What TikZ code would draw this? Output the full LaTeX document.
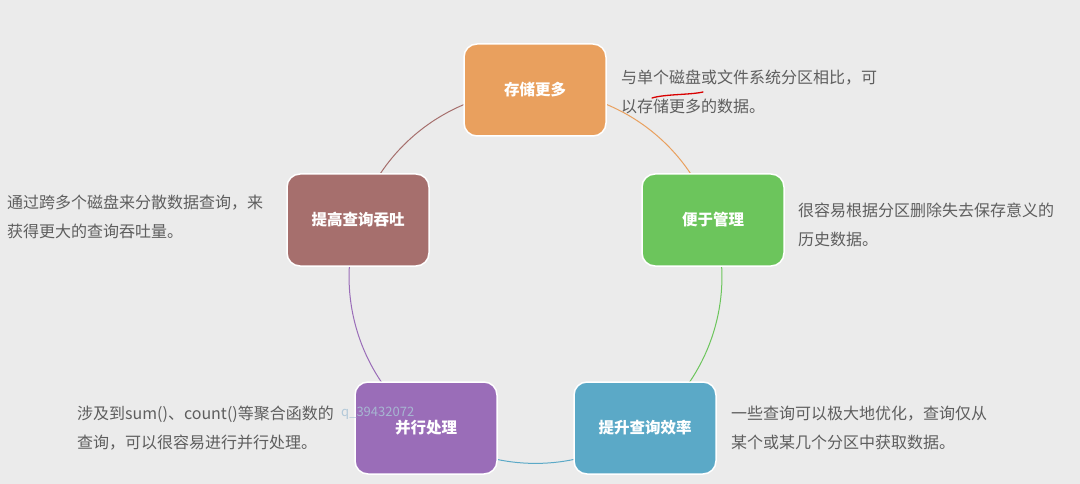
\documentclass[tikz,border=0pt]{standalone}
\usepackage{fontspec}
\usetikzlibrary{backgrounds}
\setmainfont{Noto Sans CJK SC}
\newfontfamily\cjk{Noto Sans CJK SC}
\definecolor{bgc}{HTML}{EBEBEB}
\definecolor{cOrange}{HTML}{E9A05E}
\definecolor{cGreen}{HTML}{6CC55C}
\definecolor{cBlue}{HTML}{5BA9C7}
\definecolor{cPurple}{HTML}{9A6DB8}
\definecolor{cBrown}{HTML}{A66F6D}
\definecolor{descc}{HTML}{5E5E5E}
\definecolor{wmark}{HTML}{A9C3D6}
\tikzset{
  topic/.style={draw=white, line width=1.5pt, rounded corners=13pt,
    minimum width=142pt, minimum height=92pt, inner sep=0pt,
    text=white, font=\cjk\bfseries\fontsize{15.5}{18}\selectfont},
  desc/.style={anchor=west, align=left, inner sep=0pt, text=descc,
    font=\cjk\fontsize{16}{29}\selectfont},
  ring/.style={line width=1pt, bend left=36, looseness=0.94}
}
\begin{document}
\begin{tikzpicture}[x=1pt,y=-1pt]
\useasboundingbox (0,0) rectangle (1080,484);
\node[topic, fill=cOrange] (top) at (535,90) {存储更多};
\node[topic, fill=cGreen] (right) at (713,220) {便于管理};
\node[topic, fill=cBlue] (br) at (645,428) {提升查询效率};
\node[topic, fill=cPurple] (bl) at (426,428) {并行处理};
\node[topic, fill=cBrown] (left) at (358,220) {提高查询吞吐};
\begin{scope}[on background layer]
\fill[bgc] (0,0) rectangle (1080,484);
\draw[ring, cOrange] (top.center) to (right.center);
\draw[ring, cGreen] (right.center) to (br.center);
\draw[ring, cBlue] (br.center) to (bl.center);
\draw[ring, cPurple] (bl.center) to (left.center);
\draw[ring, cBrown] (left.center) to (top.center);
\end{scope}
% descriptions
\node[desc] (dtop) at (621,91.5) {与单个磁盘或文件系统分区相比，可\\以存储更多的数据。};
\node[desc] (dright) at (798,225) {很容易根据分区删除失去保存意义的\\历史数据。};
\node[desc] (dleft) at (7,217) {通过跨多个磁盘来分散数据查询，来\\获得更大的查询吞吐量。};
\node[desc] (dbr) at (731,427.5) {一些查询可以极大地优化，查询仅从\\某个或某几个分区中获取数据。};
\node[desc] (dbl) at (77,428) {涉及到sum()、count()等聚合函数的\\查询，可以很容易进行并行处理。};
% watermark
\node[anchor=west, inner sep=0pt, text=wmark, opacity=0.85, font=\cjk\fontsize{13}{15}\selectfont] (wm) at (341,413) {q\_39432072};
% red hand underline
\draw[red!85!black, line width=1.3pt, line cap=round] (652,98) .. controls (665,94) and (690,95) .. (703,92);
\end{tikzpicture}
\end{document}
